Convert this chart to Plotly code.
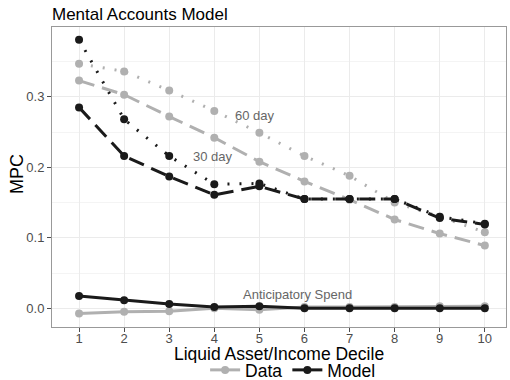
import plotly.graph_objects as go

deciles = [1, 2, 3, 4, 5, 6, 7, 8, 9, 10]
data_60 = [0.347, 0.336, 0.309, 0.280, 0.249, 0.216, 0.188, 0.150, 0.130, 0.108]
data_30 = [0.323, 0.303, 0.272, 0.242, 0.208, 0.180, 0.154, 0.126, 0.106, 0.089]
model_60 = [0.381, 0.268, 0.216, 0.176, 0.177, 0.155, 0.155, 0.155, 0.130, 0.120]
model_30 = [0.285, 0.216, 0.187, 0.161, 0.173, 0.155, 0.155, 0.155, 0.128, 0.119]
data_ant = [-0.0075, -0.0047, -0.004, 0.0, -0.002, 0.002, 0.002, 0.002, 0.003, 0.003]
model_ant = [0.0175, 0.0114, 0.006, 0.002, 0.003, 0.0, 0.0, 0.0, 0.0, 0.0]

GRAY = "#b0b0b0"
BLACK = "#1a1a1a"
FONT = "Liberation Sans"

fig = go.Figure()

def add(y, color, dash, width=3):
    fig.add_trace(go.Scatter(
        x=deciles, y=y, mode="lines+markers",
        line=dict(color=color, width=width, dash=dash),
        marker=dict(color=color, size=8),
        showlegend=False, hoverinfo="skip"))

add(data_60, GRAY, "2px,10px")
add(data_30, GRAY, "16px,8px")
add(data_ant, GRAY, "solid")
add(model_60, BLACK, "2px,10px")
add(model_30, BLACK, "16px,8px")
add(model_ant, BLACK, "solid")

for name, color in [("Data", GRAY), ("Model", BLACK)]:
    fig.add_trace(go.Scatter(
        x=[None], y=[None], mode="lines+markers", name=name,
        line=dict(color=color, width=3), marker=dict(color=color, size=8)))

ann_color = "#666666"
fig.add_annotation(x=4.9, y=0.273, text="60 day", showarrow=False,
                   font=dict(size=13, color=ann_color, family=FONT))
fig.add_annotation(x=3.97, y=0.215, text="30 day", showarrow=False,
                   font=dict(size=13, color=ann_color, family=FONT))
fig.add_annotation(x=5.85, y=0.019, text="Anticipatory Spend", showarrow=False,
                   font=dict(size=13, color=ann_color, family=FONT))

# axis titles
fig.add_annotation(xref="paper", yref="paper", x=0.5, y=-(354 - 327) / 300,
                   text="Liquid Asset/Income Decile", showarrow=False,
                   yanchor="middle", xanchor="center", height=18,
                   font=dict(size=17.5, color="#000000", family=FONT))
fig.add_annotation(xref="paper", yref="paper", x=(17 - 52) / 454, y=(327 - 174) / 300,
                   text="MPC", showarrow=False, textangle=-90,
                   yanchor="middle", xanchor="center",
                   font=dict(size=18, color="#000000", family=FONT))

grid = "#ebebeb"
fig.update_layout(
    width=510, height=380,
    margin=dict(l=52, r=4, t=27, b=53),
    paper_bgcolor="white", plot_bgcolor="white",
    font=dict(family=FONT, color="#000000"),
    title=dict(text="Mental Accounts Model", x=52/510, xanchor="left",
               y=1 - 14/380, yanchor="middle",
               font=dict(size=17, color="#000000", family=FONT)),
    xaxis=dict(
        range=[0.4, 10.47], tickvals=deciles, ticktext=[str(d) for d in deciles],
        showgrid=True, gridcolor=grid, gridwidth=1, automargin=False,
        zeroline=False, showline=True, linecolor="#999999", linewidth=1, mirror=True,
        ticks="outside", ticklen=4, tickcolor="#4d4d4d", ticklabelstandoff=-5,
        tickfont=dict(size=13, color="#4d4d4d", family=FONT)),
    yaxis=dict(
        range=[-0.0265, 0.399], tickvals=[0.0, 0.1, 0.2, 0.3],
        ticktext=["0.0", "0.1", "0.2", "0.3"],
        showgrid=True, gridcolor=grid, gridwidth=1, automargin=False,
        minor=dict(tickvals=[-0.05, 0.05, 0.15, 0.25, 0.35], showgrid=True,
                   gridcolor="#f4f4f4", gridwidth=1),
        zeroline=False, showline=True, linecolor="#999999", linewidth=1, mirror=True,
        ticks="outside", ticklen=4, tickcolor="#4d4d4d",
        tickfont=dict(size=13, color="#4d4d4d", family=FONT)),
    legend=dict(orientation="h", x=0.53, xanchor="center",
                yref="container", y=10/380, yanchor="middle",
                font=dict(size=17.5, color="#000000", family=FONT),
                itemwidth=30, tracegroupgap=0),
)

fig.write_html("out.html", config={"displayModeBar": False},
               post_script="document.body.style.margin='0';document.body.style.padding='0';")
